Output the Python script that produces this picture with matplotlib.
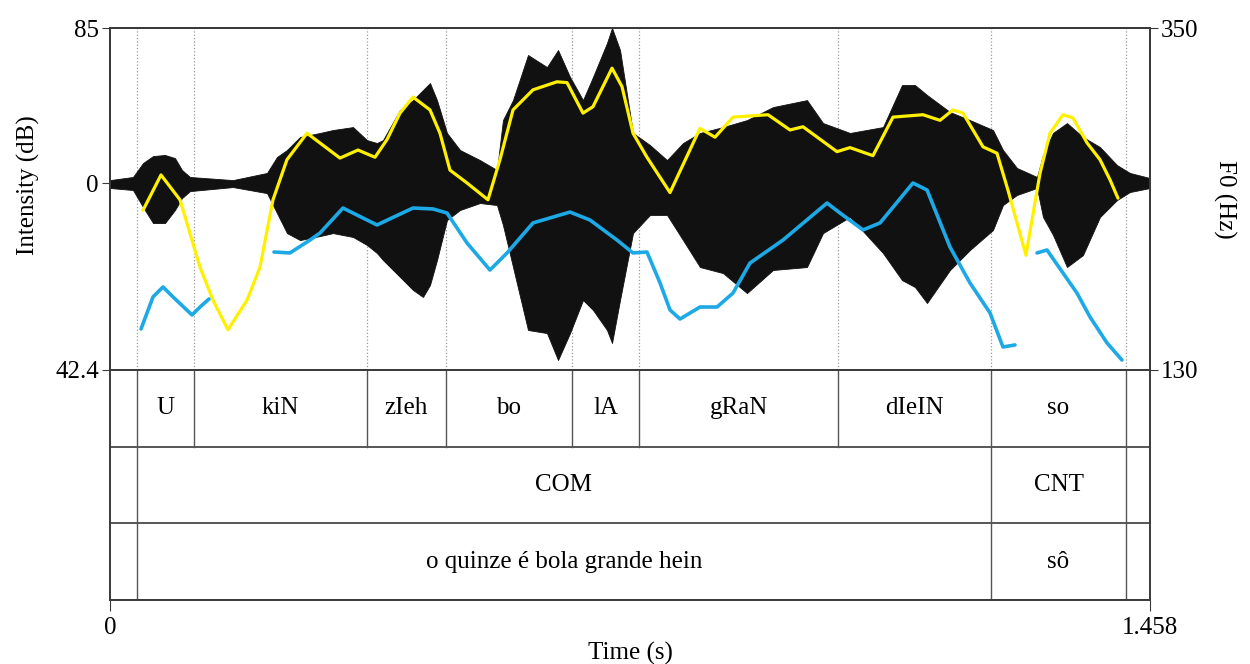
import matplotlib
matplotlib.use("Agg")
import matplotlib.pyplot as plt

plt.rcParams['font.family'] = ['Liberation Serif', 'DejaVu Serif']
plt.rcParams['font.size'] = 18

t_max = 1.458

# waveform envelope (amplitude, 1 = top of panel)
wave_t = [0.0, 0.0322, 0.0463, 0.0603, 0.0771, 0.0911, 0.1009, 0.1122, 0.1724, 0.2201,
          0.2341, 0.2481, 0.2664, 0.2944, 0.3126, 0.3407, 0.3603, 0.3743, 0.3827, 0.4066,
          0.4248, 0.4388, 0.4486, 0.4584, 0.4724, 0.4907, 0.5187, 0.5425, 0.5509, 0.5650,
          0.5860, 0.6126, 0.6281, 0.6449, 0.6631, 0.6771, 0.6967, 0.7038, 0.7150, 0.7332,
          0.7570, 0.7809, 0.8033, 0.8271, 0.8594, 0.8930, 0.9295, 0.9771, 0.9996, 1.0374,
          1.0837, 1.1103, 1.1285, 1.1454, 1.1776, 1.2056, 1.2379, 1.2519, 1.2715, 1.2996,
          1.3080, 1.3220, 1.3416, 1.3640, 1.3879, 1.4117, 1.4299, 1.458]
wave_hi = [0.019, 0.039, 0.129, 0.174, 0.181, 0.161, 0.084, 0.039, 0.019, 0.065,
           0.168, 0.213, 0.297, 0.323, 0.342, 0.361, 0.277, 0.258, 0.277, 0.471,
           0.535, 0.600, 0.645, 0.535, 0.323, 0.213, 0.148, 0.084, 0.406, 0.535,
           0.826, 0.748, 0.858, 0.684, 0.535, 0.684, 0.903, 1.000, 0.858, 0.323,
           0.245, 0.148, 0.258, 0.323, 0.361, 0.406, 0.490, 0.535, 0.387, 0.323,
           0.361, 0.632, 0.632, 0.568, 0.458, 0.406, 0.342, 0.213, 0.097, 0.039,
           0.181, 0.323, 0.387, 0.297, 0.232, 0.116, 0.065, 0.032]
wave_lo = [-0.032, -0.045, -0.155, -0.258, -0.258, -0.174, -0.097, -0.052, -0.026, -0.065,
           -0.194, -0.323, -0.368, -0.342, -0.323, -0.348, -0.400, -0.452, -0.497, -0.606,
           -0.690, -0.735, -0.658, -0.497, -0.239, -0.174, -0.129, -0.142, -0.271, -0.542,
           -0.948, -0.968, -1.142, -0.968, -0.755, -0.819, -0.948, -1.032, -0.755, -0.323,
           -0.206, -0.206, -0.368, -0.542, -0.581, -0.710, -0.561, -0.542, -0.323, -0.219,
           -0.452, -0.626, -0.671, -0.774, -0.561, -0.432, -0.303, -0.142, -0.077, -0.032,
           -0.219, -0.335, -0.542, -0.465, -0.219, -0.110, -0.058, -0.032]

# intensity (dB)
int_t = [0.0463, 0.0715, 0.0981, 0.1262, 0.1444, 0.1654, 0.1921, 0.2103, 0.2285, 0.2481,
         0.2762, 0.3224, 0.3477, 0.3715, 0.3883, 0.4066, 0.4248, 0.4486, 0.4626, 0.4766,
         0.5005, 0.5299, 0.5467, 0.5650, 0.5930, 0.6266, 0.6407, 0.6631, 0.6771, 0.7038,
         0.7178, 0.7332, 0.7528, 0.7851, 0.8271, 0.8482, 0.8734, 0.9225, 0.9533, 0.9715,
         1.0192, 1.0374, 1.0696, 1.0977, 1.1397, 1.1636, 1.1818, 1.1958, 1.2239, 1.2435,
         1.2589, 1.2841, 1.3038, 1.3178, 1.3360, 1.3500, 1.3697, 1.3879, 1.4019, 1.4131]
int_db = [62.3, 66.7, 63.6, 55.2, 51.1, 47.4, 51.1, 55.2, 63.6, 68.6,
          71.9, 68.8, 69.8, 68.9, 71.1, 74.4, 76.4, 74.8, 71.9, 67.3,
          65.7, 63.6, 68.6, 74.8, 77.3, 78.3, 78.2, 74.4, 75.2, 80.0,
          77.7, 71.9, 68.9, 64.5, 72.5, 71.4, 73.9, 74.2, 72.3, 72.7,
          69.6, 70.1, 69.1, 73.9, 74.2, 73.5, 74.8, 74.4, 70.2, 69.4,
          64.8, 56.7, 66.9, 71.9, 74.2, 73.8, 70.7, 68.6, 66.1, 63.8]

# F0 (Hz), three voiced stretches
f0_t = [
    [0.0435, 0.0603, 0.0743, 0.0883, 0.1150, 0.1262, 0.1388],
    [0.2299, 0.2523, 0.2804, 0.2944, 0.3266, 0.3743, 0.4248, 0.4528, 0.4724, 0.5005,
     0.5327, 0.5566, 0.5930, 0.6449, 0.6729, 0.7108, 0.7332, 0.7528, 0.7711, 0.7851,
     0.7991, 0.8271, 0.8510, 0.8734, 0.8972, 0.9435, 1.0052, 1.0234, 1.0556, 1.0795,
     1.1257, 1.1454, 1.1776, 1.2056, 1.2337, 1.2519, 1.2687],
    [1.2996, 1.3136, 1.3360, 1.3556, 1.3739, 1.3977, 1.4187],
]
f0_hz = [
    [156.4, 177.0, 183.4, 177.0, 165.4, 170.5, 175.7],
    [205.9, 205.3, 213.6, 218.1, 234.2, 223.3, 234.2, 233.6, 231.0, 211.7,
     194.3, 205.3, 224.6, 231.6, 226.5, 213.6, 205.3, 205.9, 186.0, 168.6,
     162.8, 170.5, 170.5, 179.5, 198.8, 213.6, 237.4, 231.0, 220.1, 224.6,
     250.3, 245.8, 209.1, 186.0, 166.7, 144.8, 146.1],
    [205.3, 207.2, 192.4, 179.5, 164.1, 147.4, 136.4],
]

# textgrid
syl_bounds = [0, 0.0374, 0.1182, 0.3599, 0.4706, 0.6481, 0.7420, 1.0210, 1.2351, 1.4244, t_max]
syl_labels = ["", "U", "kiN", "zIeh", "bo", "lA", "gRaN", "dIeIN", "so", ""]
unit_bounds = [0, 0.0374, 1.2351, 1.4244, t_max]
unit_labels = ["", "COM", "CNT", ""]
text_labels = ["", "o quinze é bola grande hein", "sô", ""]

frame = '#3a3a3a'

fig = plt.figure(figsize=(12.5, 6.64), dpi=100)
top_rect = [0.088, 0.4428, 0.832, 0.5150]
tier_rect = [0.088, 0.0964, 0.832, 0.3464]

# waveform
ax_w = fig.add_axes(top_rect)
ax_w.fill_between(wave_t, wave_lo, wave_hi, color='#111111', lw=0.6)
ax_w.set_xlim(0, t_max)
ax_w.set_ylim(-1.206, 1.0)
for b in syl_bounds[1:-1]:
    ax_w.axvline(b, color='#999999', ls=':', lw=0.9, zorder=0)
ax_w.set_yticks([0])
ax_w.set_yticklabels(["0"])
ax_w.set_xticks([])

# intensity
ax_i = fig.add_axes(top_rect, sharex=ax_w)
ax_i.patch.set_visible(False)
ax_i.plot(int_t, int_db, color='#FFF000', lw=2.3,
          solid_joinstyle='round', solid_capstyle='round')
ax_i.set_ylim(42.4, 85)
ax_i.set_yticks([42.4, 85])
ax_i.set_yticklabels(["42.4", "85"])

# pitch
ax_f = fig.add_axes(top_rect, sharex=ax_w)
ax_f.patch.set_visible(False)
for tt, hh in zip(f0_t, f0_hz):
    ax_f.plot(tt, hh, color='#1CA9E6', lw=2.6,
              solid_joinstyle='round', solid_capstyle='round')
ax_f.set_ylim(130, 350)
ax_f.yaxis.tick_right()
ax_f.set_yticks([130, 350])

for a in (ax_w, ax_i, ax_f):
    for s in a.spines.values():
        s.set_color(frame)
        s.set_linewidth(1.4)
    a.tick_params(axis='y', direction='out', length=6, color=frame, pad=2)
    a.tick_params(axis='x', bottom=False, labelbottom=False)

# tiers
ax_t = fig.add_axes(tier_rect)
ax_t.set_xlim(0, t_max)
ax_t.set_ylim(0, 3)
for s in ax_t.spines.values():
    s.set_color(frame)
    s.set_linewidth(1.4)
tiers = [(syl_bounds, syl_labels), (unit_bounds, unit_labels), (unit_bounds, text_labels)]
for k, (bounds, labels) in enumerate(tiers):
    y0 = 2 - k
    ax_t.axhline(y0, color=frame, lw=1.2)
    for b in bounds[1:-1]:
        ax_t.plot([b, b], [y0, y0 + 1], color='#555555', lw=1.0)
    for a0, a1, lab in zip(bounds[:-1], bounds[1:], labels):
        if lab:
            ax_t.text((a0 + a1) / 2, y0 + 0.5, lab, ha='center', va='center')
ax_t.set_yticks([])
ax_t.set_xticks([0, t_max])
ax_t.set_xticklabels(["0", "1.458"])
ax_t.tick_params(axis='x', direction='out', length=8, color=frame, pad=4)
ax_t.set_xlabel("Time (s)", labelpad=2)

fig.text(28 / 1250, 1 - 185 / 664, "Intensity (dB)", rotation=90, ha='center', va='center')
fig.text(1225 / 1250, 1 - 199 / 664, "F0 (Hz)", rotation=-90, ha='center', va='center')

fig.savefig("out.png", dpi=100, facecolor='white')
